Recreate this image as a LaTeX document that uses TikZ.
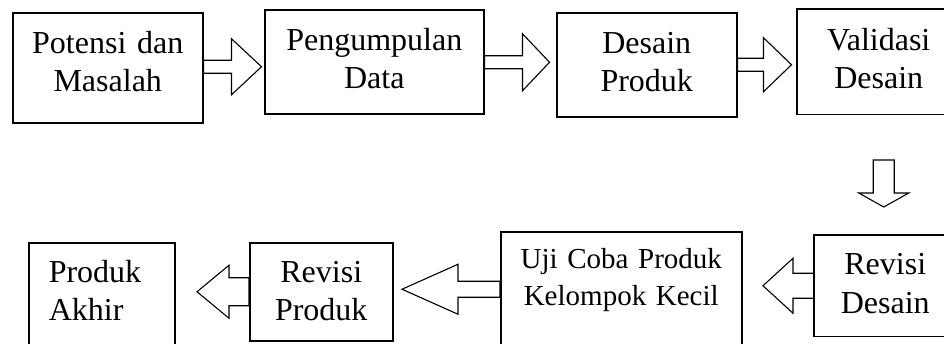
\documentclass[tikz,border=0pt]{standalone}
\usepackage{fontspec}
\setmainfont{Liberation Serif}
\usepackage{tikz}

\begin{document}
\begin{tikzpicture}[x=1pt, y=-1pt,
  stage/.style={draw, line width=1.5pt, inner sep=0pt, anchor=north west, align=center,
    font=\fontsize{32}{38}\selectfont},
  cutoff/.style={line width=1.5pt},
  blockarrow/.style={draw, line width=1.1pt}]
\useasboundingbox (0,0) rectangle (944,343);
\clip (0,0) rectangle (944,343);

\node[stage, text width=190pt, text height=41pt, text depth=69pt] (potensi) at (12,12) {Potensi dan\\Masalah};
\node[stage, text width=219pt, text height=41pt, text depth=63pt] (data) at (264,9) {Pengumpulan\\Data};
\node[stage, text width=180pt, text height=41pt, text depth=63pt] (desain) at (556,12) {Desain\\Produk};
\node[stage, draw=none, text width=162pt, text height=41pt, text depth=63pt] (validasi) at (797,9) {Validasi\\Desain};

\node[stage, draw=none, text width=141pt, text height=39pt, text depth=61pt, font=\fontsize{32}{39}\selectfont] (revdesain) at (814,235) {Revisi\\Desain};
\node[stage, text width=241pt, text height=37pt, text depth=78pt, font=\fontsize{29}{37}\selectfont] (ujicoba) at (500,231) {Uji Coba Produk\\Kelompok Kecil};
\node[stage, text width=143pt, text height=40pt, text depth=58pt] (revproduk) at (249,242) {Revisi\\Produk};
\node[stage, inner xsep=20pt, text width=106pt, text height=40pt, text depth=64pt, align=left] (akhir) at (28,242) {Produk\\Akhir};

% boxes running off the right edge
\draw[cutoff] (validasi.north east) -- (validasi.north west) -- (validasi.south west) -- (validasi.south east);
\draw[cutoff] (revdesain.north east) -- (revdesain.north west) -- (revdesain.south west) -- (revdesain.south east);

% top row, pointing right
\draw[blockarrow] (potensi.east) ++(0,-7.5) -- ++(28,0) -- ++(0,-21.5) -- ++(30,28) -- ++(-30,28) -- ++(0,-21.5) -- ++(-28,0) -- cycle;
\draw[blockarrow] (data.east) ++(0,-6) -- ++(38,0) -- ++(0,-22) -- ++(27,28.5) -- ++(-27,28.5) -- ++(0,-22) -- ++(-38,0) -- cycle;
\draw[blockarrow] (desain.east) ++(0,-6.5) -- ++(26,0) -- ++(0,-20.5) -- ++(28,27) -- ++(-28,27) -- ++(0,-20.5) -- ++(-26,0) -- cycle;

% down to the second row
\draw[blockarrow] (revdesain.north) ++(-12,-75) -- ++(21,0) -- ++(0,33) -- ++(14.5,0) -- ++(-25,14) -- ++(-25,-14) -- ++(14.5,0) -- cycle;

% bottom row, pointing left
\draw[blockarrow] (revdesain.west) ++(0,-12.5) -- ++(-21,0) -- ++(0,-15) -- ++(-30,27.5) -- ++(30,27.5) -- ++(0,-15) -- ++(21,0) -- cycle;
\draw[blockarrow] (ujicoba.west) ++(0,-8) -- ++(-42,0) -- ++(0,-17) -- ++(-56,25) -- ++(56,25) -- ++(0,-17) -- ++(42,0) -- cycle;
\draw[blockarrow] (revproduk.west) ++(0,-14) -- ++(-20,0) -- ++(0,-12.5) -- ++(-32,26.5) -- ++(32,26.5) -- ++(0,-12.5) -- ++(20,0) -- cycle;
\end{tikzpicture}
\end{document}
